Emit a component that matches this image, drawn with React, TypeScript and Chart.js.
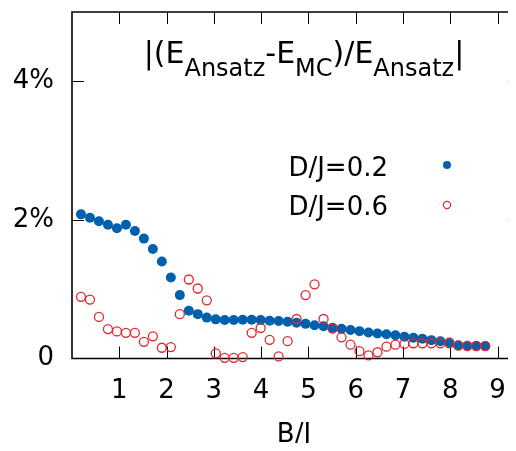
import React, { useEffect, useRef } from "react";
import { Chart, registerables } from "chart.js";

Chart.register(...registerables);

const BJ = [0.19, 0.38, 0.57, 0.76, 0.95, 1.14, 1.33, 1.52, 1.71, 1.9, 2.09, 2.28, 2.47, 2.66, 2.85, 3.04, 3.23, 3.42, 3.61, 3.8, 3.99, 4.18, 4.37, 4.56, 4.75, 4.94, 5.13, 5.32, 5.51, 5.7, 5.89, 6.08, 6.27, 6.46, 6.65, 6.84, 7.03, 7.22, 7.41, 7.6, 7.79, 7.98, 8.17, 8.36, 8.55, 8.74];

// relative error in %
const ERR_D02 = [2.08, 2.03, 1.98, 1.93, 1.88, 1.93, 1.84, 1.73, 1.58, 1.4, 1.17, 0.915, 0.69, 0.64, 0.59, 0.565, 0.555, 0.555, 0.56, 0.56, 0.555, 0.545, 0.54, 0.53, 0.515, 0.5, 0.48, 0.465, 0.445, 0.43, 0.41, 0.395, 0.375, 0.36, 0.35, 0.335, 0.315, 0.3, 0.285, 0.265, 0.25, 0.23, 0.19, 0.185, 0.185, 0.18];
const ERR_D06 = [0.89, 0.85, 0.6, 0.425, 0.39, 0.37, 0.37, 0.24, 0.32, 0.155, 0.165, 0.64, 1.14, 1.01, 0.84, 0.075, 0.01, 0.01, 0.02, 0.37, 0.44, 0.27, 0.03, 0.25, 0.57, 0.915, 1.07, 0.57, 0.43, 0.305, 0.2, 0.105, 0.045, 0.09, 0.17, 0.2, 0.21, 0.22, 0.22, 0.22, 0.22, 0.22, 0.185, 0.18, 0.18, 0.18];

const X_TICKS = [1, 2, 3, 4, 5, 6, 7, 8, 9];
const Y_TICKS = [0, 2, 4];
const X_MAX_VISIBLE = 9.39; // range shown within the canvas
const X_FRAME_END = 9.47; // right border of the plot frame (just off canvas)
const LEGEND = ["D/J=0.2", "D/J=0.6"];
const X_TITLE = "B/J";
const TITLE_PARTS: [string, boolean][] = [
  ["|(E", false],
  ["Ansatz", true],
  ["-E", false],
  ["MC", true],
  [")/E", false],
  ["Ansatz", true],
  ["|", false],
];

const BLUE = "#0060ad";
const RED = "#e3262e";
const FONT = '"DejaVu Sans", sans-serif';

const zeroPad = (s: any) => {
  s.paddingLeft = 0;
  s.paddingRight = 0;
  s.paddingTop = 0;
  s.paddingBottom = 0;
};

const framePlugin = {
  id: "frame",
  beforeDatasetsDraw(chart: any) {
    const { ctx, chartArea: a, scales } = chart;
    const right = scales.x.getPixelForValue(X_FRAME_END);
    ctx.save();
    ctx.strokeStyle = "#000";
    ctx.lineWidth = 1;
    const tl = 12;
    for (const v of X_TICKS) {
      const x = Math.round(scales.x.getPixelForValue(v)) + 0.5;
      ctx.beginPath();
      ctx.moveTo(x, a.bottom);
      ctx.lineTo(x, a.bottom - tl);
      ctx.moveTo(x, a.top);
      ctx.lineTo(x, a.top + tl);
      ctx.stroke();
    }
    for (const v of Y_TICKS) {
      if (v === 0) continue;
      const y = Math.round(scales.y.getPixelForValue(v)) + 0.5;
      ctx.beginPath();
      ctx.moveTo(a.left, y);
      ctx.lineTo(a.left + tl, y);
      ctx.moveTo(right, y);
      ctx.lineTo(right - tl, y);
      ctx.stroke();
    }
    ctx.lineWidth = 1.6;
    ctx.beginPath();
    ctx.moveTo(right, a.top);
    ctx.lineTo(a.left, a.top);
    ctx.lineTo(a.left, a.bottom);
    ctx.lineTo(right, a.bottom);
    ctx.stroke();
    ctx.restore();
  },
  afterDraw(chart: any) {
    const { ctx } = chart;
    ctx.save();
    ctx.fillStyle = "#000";
    ctx.textBaseline = "alphabetic";
    ctx.textAlign = "left";
    const mainFont = "30px " + FONT;
    const subFont = "24px " + FONT;
    let total = 0;
    for (const [t, sub] of TITLE_PARTS) {
      ctx.font = sub ? subFont : mainFont;
      total += ctx.measureText(t).width;
    }
    let x = 304 - total / 2;
    for (const [t, sub] of TITLE_PARTS) {
      ctx.font = sub ? subFont : mainFont;
      ctx.fillText(t, x, sub ? 76 : 63);
      x += ctx.measureText(t).width;
    }
    // legend
    ctx.font = "26px " + FONT;
    ctx.textAlign = "right";
    ctx.fillText(LEGEND[0], 388, 176);
    ctx.fillText(LEGEND[1], 388, 215);
    ctx.beginPath();
    ctx.arc(447, 165, 4, 0, Math.PI * 2);
    ctx.fillStyle = BLUE;
    ctx.fill();
    ctx.beginPath();
    ctx.arc(447, 205, 3.6, 0, Math.PI * 2);
    ctx.strokeStyle = RED;
    ctx.lineWidth = 1.2;
    ctx.stroke();
    ctx.restore();
  },
};

export default function App() {
  const ref = useRef<HTMLCanvasElement>(null);
  useEffect(() => {
    if (!ref.current) return;
    const chart = new Chart(ref.current, {
      type: "scatter",
      data: {
        datasets: [
          {
            label: LEGEND[1],
            data: BJ.map((x, i) => ({ x, y: ERR_D06[i] })),
            backgroundColor: "rgba(0,0,0,0)",
            borderColor: RED,
            borderWidth: 1.3,
            pointRadius: 4.5,
            order: 0,
            clip: false,
          },
          {
            label: LEGEND[0],
            data: BJ.map((x, i) => ({ x, y: ERR_D02[i] })),
            backgroundColor: BLUE,
            borderColor: BLUE,
            borderWidth: 0,
            pointRadius: 5,
            order: 1,
            clip: false,
          },
        ],
      },
      plugins: [framePlugin],
      options: {
        responsive: false,
        animation: false,
        devicePixelRatio: 1,
        layout: { autoPadding: false, padding: { top: 12, right: 0, left: 0, bottom: 0 } },
        plugins: { legend: { display: false }, tooltip: { enabled: false } },
        scales: {
          x: {
            type: "linear",
            min: 0,
            max: X_MAX_VISIBLE,
            border: { display: false },
            grid: { display: false, drawTicks: false },
            afterBuildTicks: (s: any) => {
              s.ticks = X_TICKS.map((v) => ({ value: v }));
            },
            afterFit: (s: any) => {
              s.height = 92.5;
              zeroPad(s);
            },
            ticks: {
              color: "#000",
              font: { family: FONT, size: 26 },
              padding: 17,
              maxRotation: 0,
              autoSkip: false,
            },
            title: {
              display: true,
              text: X_TITLE,
              color: "#000",
              font: { family: FONT, size: 26 },
              padding: { top: 0, bottom: 0 },
            },
          },
          y: {
            type: "linear",
            min: 0,
            max: 5,
            border: { display: false },
            grid: { display: false, drawTicks: false },
            afterBuildTicks: (s: any) => {
              s.ticks = Y_TICKS.map((v) => ({ value: v }));
            },
            afterFit: (s: any) => {
              s.width = 72;
              zeroPad(s);
            },
            ticks: {
              color: "#000",
              font: { family: FONT, size: 26 },
              padding: 18,
              callback: (v: any) => (v === 0 ? "0" : v + "%"),
            },
          },
        },
      },
    } as any);
    return () => chart.destroy();
  }, []);
  return (
    <div style={{ margin: -8, width: 516, height: 451, overflow: "hidden", position: "relative" }}>
      <canvas ref={ref} width={516} height={451} style={{ display: "block", width: 516, height: 451 }} />
    </div>
  );
}
